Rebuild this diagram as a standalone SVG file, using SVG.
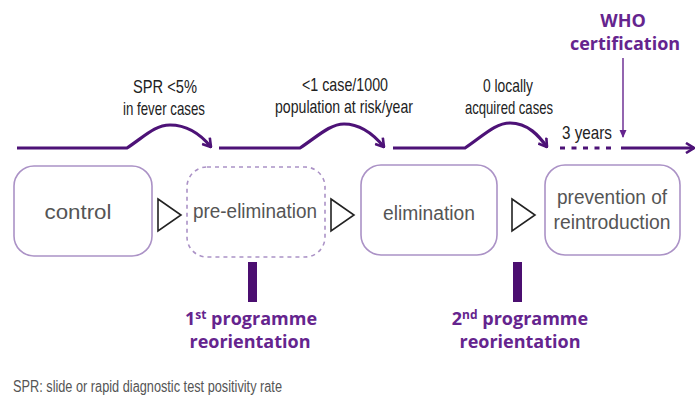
<svg xmlns="http://www.w3.org/2000/svg" width="696" height="399" viewBox="0 0 696 399">
<style>
.box{fill:#fff;stroke:#ab92c6;stroke-width:1.6}
.dash{stroke-dasharray:4 4}
.lbl{font-family:"Liberation Sans",Arial,sans-serif;font-size:20px;fill:#555;text-anchor:middle}
.top{font-family:"Liberation Sans",Arial,sans-serif;font-size:19px;fill:#222}
.bold{font-family:"Open Sans","Noto Sans",sans-serif;font-weight:bold;font-size:18px;fill:#65248e;text-anchor:middle}
.tl{fill:none;stroke:#4d1277;stroke-width:3.2}
.tri{fill:#fff;stroke:#222;stroke-width:1.6;stroke-linejoin:miter}
.bar{fill:#4b0e70}
.foot{font-family:"Liberation Sans",Arial,sans-serif;font-size:16px;fill:#555}
</style>
<defs>
<marker id="chev" markerUnits="userSpaceOnUse" viewBox="0 0 10 12" refX="9" refY="6" markerWidth="10" markerHeight="12" orient="auto">
<path d="M1,1 L9,6 L1,11" fill="none" stroke="#4d1277" stroke-width="2.6"/>
</marker>
<marker id="tipv" markerUnits="userSpaceOnUse" viewBox="0 0 8 8" refX="7" refY="4" markerWidth="8" markerHeight="8" orient="auto">
<path d="M0,0.5 L8,4 L0,7.5 Z" fill="#65248e"/>
</marker>
</defs>

<g id="connectors">
<path class="tl" d="M17,148 H127 C145,136 155,125 170,125 C188,125 202,136 211,147" marker-end="url(#chev)"/>
<path class="tl" d="M219,148 H300 C318,136 330,124 344,124 C362,124 375,136 384,147" marker-end="url(#chev)"/>
<path class="tl" d="M393,148 H465 C483,136 495,123 510,123 C528,123 539,136 547,147" marker-end="url(#chev)"/>
<path class="tl" d="M560,148 H617" stroke-dasharray="5 6.5"/>
<path class="tl" d="M621,148 H694" marker-end="url(#chev)"/>
<path d="M623,58 V137" fill="none" stroke="#65248e" stroke-width="1.4" marker-end="url(#tipv)"/>
<polygon class="tri" points="158,199 181,215 158,231"/>
<polygon class="tri" points="331,199 354,215 331,231"/>
<polygon class="tri" points="512,199 535,215 512,231"/>
</g>

<g id="label-spr">
<text class="top" x="133" y="93" textLength="64" lengthAdjust="spacingAndGlyphs">SPR &lt;5%</text>
<text class="top" x="123" y="115" textLength="82" lengthAdjust="spacingAndGlyphs">in fever cases</text>
</g>
<g id="label-case">
<text class="top" x="302" y="91" textLength="86" lengthAdjust="spacingAndGlyphs">&lt;1 case/1000</text>
<text class="top" x="275" y="113" textLength="138" lengthAdjust="spacingAndGlyphs">population at risk/year</text>
</g>
<g id="label-local">
<text class="top" x="483" y="92" textLength="50" lengthAdjust="spacingAndGlyphs">0 locally</text>
<text class="top" x="465" y="114" textLength="88" lengthAdjust="spacingAndGlyphs">acquired cases</text>
</g>
<g id="label-3years">
<text class="top" x="562" y="139" font-size="17" textLength="50" lengthAdjust="spacingAndGlyphs">3 years</text>
</g>
<g id="who">
<text class="bold" x="623" y="27">WHO</text>
<text class="bold" x="625" y="50">certification</text>
</g>

<g id="control">
<rect class="box" x="14" y="166" width="138" height="90" rx="20"/>
<text class="lbl" x="78" y="219" textLength="67" lengthAdjust="spacingAndGlyphs">control</text>
</g>
<g id="pre-elimination">
<rect class="box dash" x="187" y="167" width="138" height="90" rx="20"/>
<text class="lbl" x="255" y="218" textLength="124" lengthAdjust="spacingAndGlyphs">pre-elimination</text>
</g>
<g id="elimination">
<rect class="box" x="361" y="165" width="136" height="90" rx="20"/>
<text class="lbl" x="429" y="220" textLength="92" lengthAdjust="spacingAndGlyphs">elimination</text>
</g>
<g id="prevention">
<rect class="box" x="545" y="165" width="135" height="90" rx="20"/>
<text class="lbl" x="612" y="204" textLength="110" lengthAdjust="spacingAndGlyphs">prevention of</text>
<text class="lbl" x="612" y="229" textLength="117" lengthAdjust="spacingAndGlyphs">reintroduction</text>
</g>

<g id="reorientation-1">
<rect class="bar" x="248" y="262" width="9" height="40"/>
<text class="bold" x="251" y="325">1<tspan font-size="12" dy="-6">st</tspan><tspan dy="6"> programme</tspan></text>
<text class="bold" x="250" y="348">reorientation</text>
</g>
<g id="reorientation-2">
<rect class="bar" x="513" y="262" width="9" height="40"/>
<text class="bold" x="520" y="325">2<tspan font-size="12" dy="-6">nd</tspan><tspan dy="6"> programme</tspan></text>
<text class="bold" x="520" y="348">reorientation</text>
</g>

<text class="foot" x="13" y="392" textLength="269" lengthAdjust="spacingAndGlyphs">SPR: slide or rapid diagnostic test positivity rate</text>
</svg>
